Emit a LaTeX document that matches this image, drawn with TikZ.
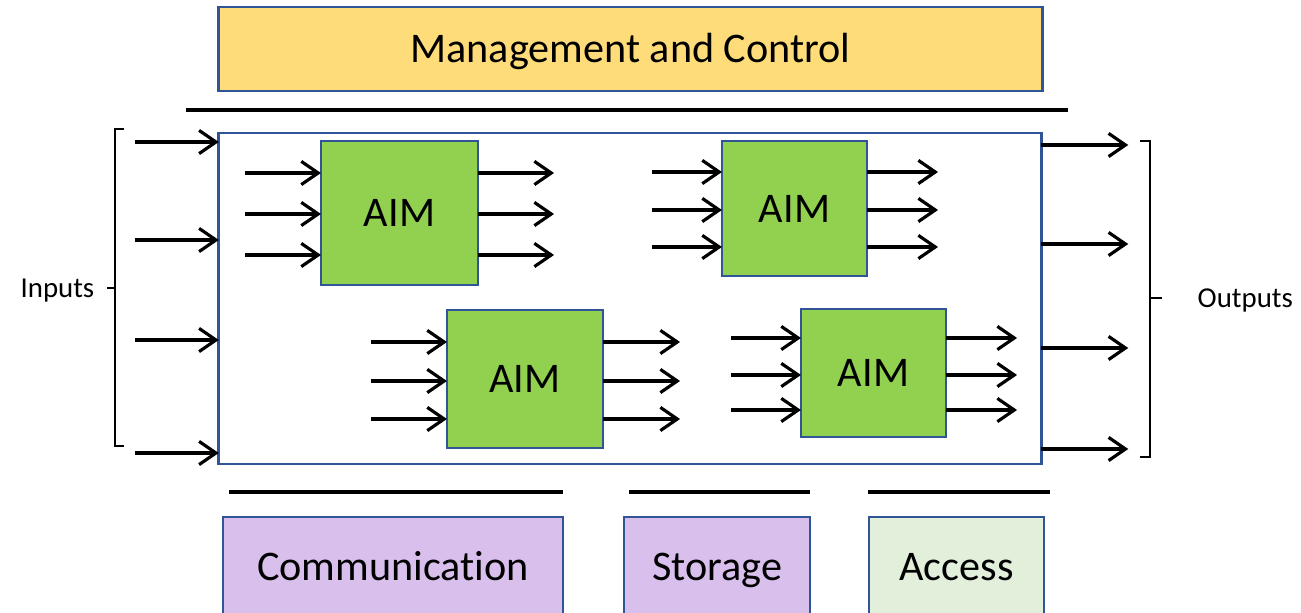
\documentclass[tikz,border=0pt]{standalone}
\usepackage{fontspec}
\setmainfont{Carlito}[Ligatures=NoCommon]
\usetikzlibrary{arrows.meta,calc}
\definecolor{bordblue}{HTML}{2F5597}
\definecolor{mgmtyellow}{HTML}{FFDC7A}
\definecolor{aimgreen}{HTML}{92D050}
\definecolor{lav}{HTML}{D9BFEC}
\definecolor{accgreen}{HTML}{E2EFDA}
\tikzset{
  box/.style={draw=bordblue, line width=0.75pt, inner sep=0pt, outer sep=0pt,
    font=\fontsize{12}{14}\selectfont, text height=7.7pt, text depth=0pt},
  aimbox/.style={box, fill=aimgreen},
  arr/.style={-{Straight Barb[length=4.8pt,width=6.6pt,line width=0.9pt]}, line width=0.9pt, black},
  bar/.style={line width=1.2pt, black},
  brace/.style={line width=0.45pt, black},
}
\begin{document}
\begin{tikzpicture}[x=0.01cm,y=-0.01cm]
\useasboundingbox (0,0) rectangle (1301,613);
% top
\node[box, fill=mgmtyellow, minimum width=8.23cm, minimum height=0.84cm] (mgmt) at (630.5,49) {Management and Control};
\coordinate (tl) at (186,110); \coordinate (tr) at (1068,110);
\draw[bar] (tl) -- (tr);
% main box
\node[box, fill=white, minimum width=8.22cm, minimum height=3.31cm] (main) at (630,298.5) {};
% AIMs
\node[aimbox, minimum width=1.57cm, minimum height=1.44cm] (a1) at (399.5,213) {AIM};
\node[aimbox, minimum width=1.45cm, minimum height=1.35cm] (a2) at (794.5,208.5) {AIM};
\node[aimbox, minimum width=1.56cm, minimum height=1.38cm] (a3) at (525,379) {AIM};
\node[aimbox, minimum width=1.45cm, minimum height=1.28cm] (a4) at (873.5,373) {AIM};
\foreach \y in {173,214,255}{
  \draw[arr] ($(a1.west |- 0,\y)+(-76,0)$) -- (a1.west |- 0,\y);
  \draw[arr] (a1.east |- 0,\y) -- ++(76,0);
}
\foreach \y in {172,210,247}{
  \draw[arr] ($(a2.west |- 0,\y)+(-70,0)$) -- (a2.west |- 0,\y);
  \draw[arr] (a2.east |- 0,\y) -- ++(71,0);
}
\foreach \y in {342,381,419}{
  \draw[arr] ($(a3.west |- 0,\y)+(-76,0)$) -- (a3.west |- 0,\y);
  \draw[arr] (a3.east |- 0,\y) -- ++(77,0);
}
\foreach \y in {338,375,410}{
  \draw[arr] ($(a4.west |- 0,\y)+(-70,0)$) -- (a4.west |- 0,\y);
  \draw[arr] (a4.east |- 0,\y) -- ++(71,0);
}
% outer inputs / outputs
\foreach \y in {142,240,340,453}{
  \draw[arr] ($(main.west |- 0,\y)+(-84,0)$) -- (main.west |- 0,\y);
}
\foreach \y in {145,244,348,449}{
  \draw[arr] (main.east |- 0,\y) -- ++(87,0);
}
% braces
\coordinate (lbt) at (124,129); \coordinate (lbb) at (124,446);
\draw[brace] (lbt) -- (115,129) -- (115,446) -- (lbb);
\draw[brace] (115,288) -- (107,288);
\node[font=\fontsize{8.2}{10}\selectfont, anchor=east, inner sep=0pt] (inputs) at (95,291) {Inputs};
\coordinate (rbt) at (1140,141); \coordinate (rbb) at (1140,457);
\draw[brace] (rbt) -- (1150,141) -- (1150,457) -- (rbb);
\draw[brace] (1150,298) -- (1162,298);
\node[font=\fontsize{8.2}{10}\selectfont, anchor=west, inner sep=0pt] (outputs) at (1197,300) {Outputs};
% bottom bars
\coordinate (b1l) at (229,492); \coordinate (b1r) at (563,492);
\coordinate (b2l) at (629,492); \coordinate (b2r) at (810,492);
\coordinate (b3l) at (868,492); \coordinate (b3r) at (1050,492);
\draw[bar] (b1l) -- (b1r);
\draw[bar] (b2l) -- (b2r);
\draw[bar] (b3l) -- (b3r);
% bottom boxes
\node[box, fill=lav, minimum width=3.40cm, minimum height=1.00cm] (comm) at (393,567) {Communication};
\node[box, fill=lav, minimum width=1.86cm, minimum height=1.00cm] (stor) at (717,567) {Storage};
\node[box, fill=accgreen, minimum width=1.75cm, minimum height=1.00cm] (acc) at (956.5,567) {Access};
\end{tikzpicture}
\end{document}
